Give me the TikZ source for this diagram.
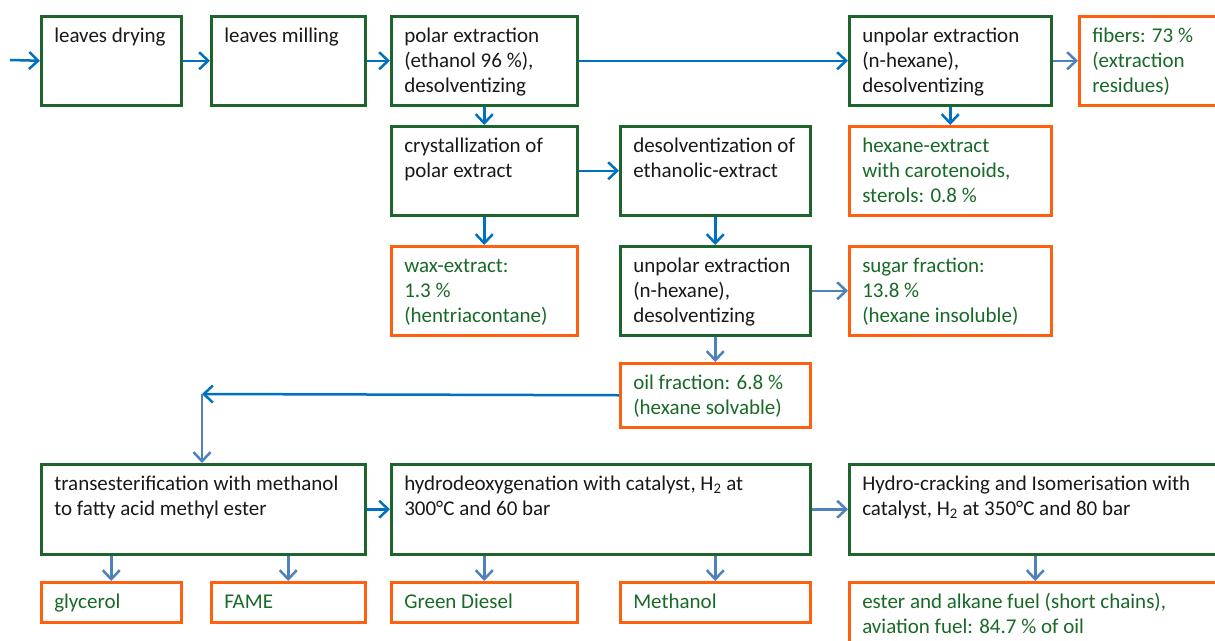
\documentclass[tikz,border=0pt]{standalone}
\usepackage{fontspec}
\setmainfont{Carlito}
\usetikzlibrary{arrows.meta}
\definecolor{bxgreen}{RGB}{30,100,45}
\definecolor{txgreen}{RGB}{25,105,40}
\definecolor{bxorange}{RGB}{255,96,16}
\definecolor{blueA}{RGB}{0,112,192}
\definecolor{blueB}{RGB}{79,129,189}
\newcommand\mybox[7]{\node[#1] (#2) at (#3,#4) {\parbox[c][\dimexpr #6pt-#4pt-18pt\relax][t]{\dimexpr #5pt-#3pt-26pt\relax}{\raggedright\strut #7}};}
\tikzset{
  boxbase/.style={rectangle, anchor=north west, line width=2.5pt, inner xsep=13pt, inner ysep=9pt,
    font=\fontsize{21}{25}\selectfont},
  proc/.style={boxbase, draw=bxgreen, text=black!90},
  prod/.style={boxbase, draw=bxorange, text=txgreen},
  arA/.style={draw=blueA, line width=2.5pt, -{Straight Barb[length=9pt,width=17pt,line width=2.5pt]}},
  arB/.style={draw=blueB, line width=2.5pt, -{Straight Barb[length=9pt,width=17pt,line width=2.5pt]}},
}
\begin{document}
\begin{tikzpicture}[x=1pt,y=-1pt]
\clip (0,0) rectangle (1215,640);
\fill[white] (0,0) rectangle (1215,640);
% row 1
\mybox{proc}{dry}{40}{15}{180}{104}{leaves drying}
\mybox{proc}{mill}{210}{15}{364}{104}{leaves milling}
\mybox{proc}{polar}{390}{15}{576}{104}{polar extraction\\(ethanol 96 \%),\\desolventizing}
\mybox{proc}{unpT}{848}{15}{1050}{104}{unpolar extraction\\(n-hexane),\\desolventizing}
\mybox{prod}{fib}{1078}{15}{1250}{104}{fibers: 73 \%\\(extraction\\residues)}
% row 2
\mybox{proc}{crys}{390}{125}{576}{214}{crystallization of\\polar extract}
\mybox{proc}{desol}{619}{125}{809}{214}{desolventization of\\ethanolic-extract}
\mybox{prod}{hexE}{848}{125}{1050}{214}{hexane-extract\\with carotenoids,\\sterols: 0.8 \%}
% row 3
\mybox{prod}{wax}{390}{245}{576}{334}{wax-extract:\\1.3 \%\\(hentriacontane)}
\mybox{proc}{unpM}{619}{245}{809}{334}{unpolar extraction\\(n-hexane),\\desolventizing}
\mybox{prod}{sugar}{848}{245}{1050}{334}{sugar fraction:\\13.8 \%\\(hexane insoluble)}
% oil
\mybox{prod}{oil}{619}{362}{809}{426}{oil fraction: 6.8 \%\\(hexane solvable)}
% row 4
\mybox{proc}{trans}{40}{463}{364}{553}{transesterification with methanol\\to fatty acid methyl ester}
\mybox{proc}{hdo}{390}{463}{809}{553}{hydrodeoxygenation with catalyst, H\textsubscript{2} at\\300°C and 60 bar}
\mybox{proc}{hc}{848}{463}{1220}{553}{Hydro-cracking and Isomerisation with\\catalyst, H\textsubscript{2} at 350°C and 80 bar}
% row 5
\mybox{prod}{gly}{40}{581}{180}{621}{glycerol}
\mybox{prod}{fame}{210}{581}{364}{621}{FAME}
\mybox{prod}{gd}{390}{581}{576}{621}{Green Diesel}
\mybox{prod}{meth}{619}{581}{809}{621}{Methanol}
\mybox{prod}{ester}{848}{581}{1220}{680}{ester and alkane fuel (short chains),\\aviation fuel: 84.7 \% of oil}
% connectors
\coordinate (start) at (10,60);
\coordinate (corner) at (202,394);
\draw[arA] (start) -- (dry.west);
\draw[arA] (dry) -- (mill);
\draw[arA] (mill) -- (polar);
\draw[arA] (polar) -- (unpT);
\draw[arB] (unpT) -- (fib);
\draw[arA] (polar) -- (crys);
\draw[arA] (crys) -- (desol);
\draw[arA] (unpT) -- (hexE);
\draw[arA] (crys) -- (wax);
\draw[arA] (desol) -- (unpM);
\draw[arB] (unpM) -- (sugar);
\draw[arB] (unpM) -- (oil);
\draw[arA] (oil.west) -- (corner);
\draw[arB] (corner) -- (trans.north -| corner);
\draw[arB] (trans.south -| gly.north) -- (gly.north);
\draw[arB] (trans.south -| fame.north) -- (fame.north);
\draw[arA] (trans) -- (hdo);
\draw[arB] (hdo.south -| gd.north) -- (gd.north);
\draw[arB] (hdo.south -| meth.north) -- (meth.north);
\draw[arB] (hdo) -- (hc);
\draw[arB] (hc) -- (hc.south |- ester.north);
\end{tikzpicture}
\end{document}
